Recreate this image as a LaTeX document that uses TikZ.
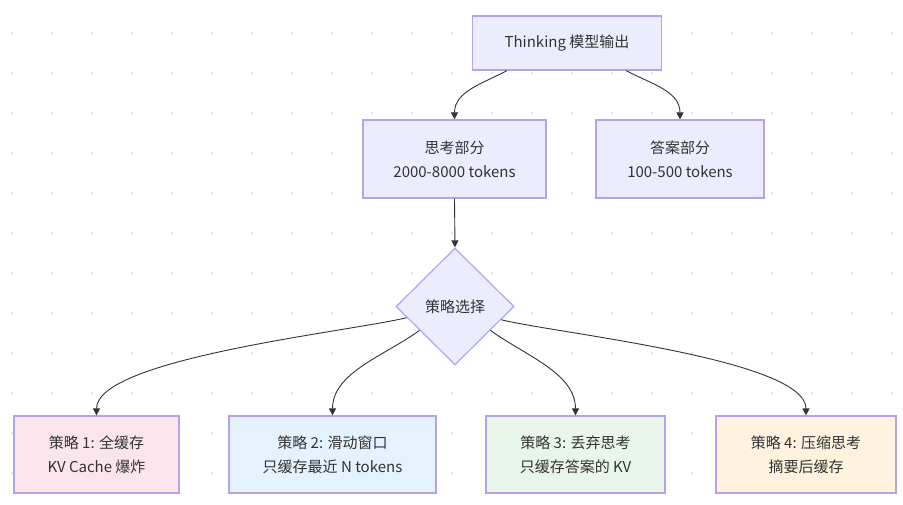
\documentclass[tikz,border=0pt]{standalone}
\usepackage{fontspec}
\setmainfont{Noto Sans CJK SC}
\usetikzlibrary{shapes.geometric,arrows.meta}
\definecolor{txt}{HTML}{333333}
\definecolor{edge}{HTML}{333333}
\definecolor{lav}{HTML}{ECECFF}
\definecolor{lavline}{HTML}{B7A2EA}
\definecolor{pinkf}{HTML}{FCE4EC}
\definecolor{bluef}{HTML}{E3F2FD}
\definecolor{greenf}{HTML}{E8F5E9}
\definecolor{orangef}{HTML}{FFF3E0}
\begin{document}
\begin{tikzpicture}[x=1pt, y=-1pt,
    box/.style={draw=lavline, line width=1.2pt, fill=lav, align=center, text=txt,
      font=\fontsize{15}{24}\selectfont, inner sep=0pt},
    flow/.style={draw=edge, line width=0.9pt, -{Triangle[length=7pt,width=7pt]}}]
  \useasboundingbox (0,0) rectangle (903,505);
  \foreach \i in {0,...,22}
    \foreach \j in {0,...,11}
      \fill[gray!28] (12+40*\i, 33+40*\j) circle (1.1);
  \node[box, minimum width=189, minimum height=54] (top) at (567,43) {Thinking 模型输出};
  \node[box, minimum width=183, minimum height=78] (think) at (454.5,159) {思考部分\\2000-8000 tokens};
  \node[box, minimum width=168, minimum height=78] (ans) at (680,159) {答案部分\\100-500 tokens};
  \node[box, diamond, minimum width=118, minimum height=117] (pick) at (455,306.5) {策略选择};
  \node[box, fill=pinkf, minimum width=165, minimum height=77] (s1) at (96.5,454.5) {策略 1: 全缓存\\KV Cache 爆炸};
  \node[box, fill=bluef, minimum width=207, minimum height=77] (s2) at (332.5,454.5) {策略 2: 滑动窗口\\只缓存最近 N tokens};
  \node[box, fill=greenf, minimum width=179, minimum height=77] (s3) at (575.5,454.5) {策略 3: 丢弃思考\\只缓存答案的 KV};
  \node[box, fill=orangef, minimum width=180, minimum height=77] (s4) at (806,454.5) {策略 4: 压缩思考\\摘要后缓存};
  \draw[flow] ([xshift=-60]top.south) to[out=208, in=90] (think.north);
  \draw[flow] ([xshift=59]top.south) to[out=-28, in=90] (ans.north);
  \draw[flow] (think.south) -- (pick.north);
  \draw[flow] (pick.193) to[out=194, in=90, looseness=0.45] (s1.north);
  \draw[flow] (pick.214) to[out=216, in=90, looseness=0.9] (s2.north);
  \draw[flow] (pick.326) to[out=-36, in=90, looseness=0.9] (s3.north);
  \draw[flow] (pick.344) to[out=-14, in=90, looseness=0.45] (s4.north);
\end{tikzpicture}
\end{document}
